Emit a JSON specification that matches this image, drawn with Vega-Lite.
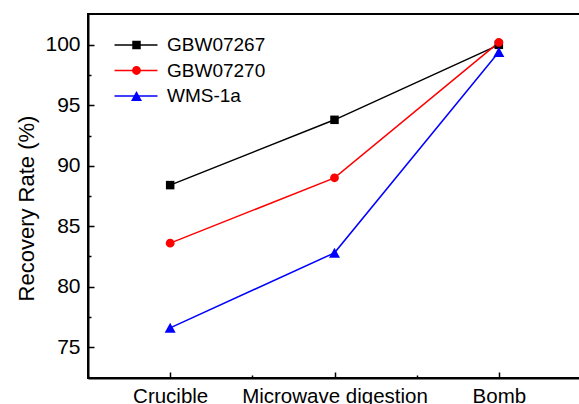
{
  "$schema": "https://vega.github.io/schema/vega-lite/v6.json",
  "autosize": "none",
  "width": 493,
  "height": 364,
  "padding": {"left": 88, "top": 14, "right": 0, "bottom": 26},
  "background": "white",
  "config": {
    "view": {"stroke": "black", "strokeWidth": 2},
    "font": "Liberation Sans",
    "axis": {"grid": false, "labelColor": "black", "titleColor": "black", "domainColor": "black", "tickColor": "black", "labelFont": "Liberation Sans", "titleFont": "Liberation Sans"},
    "legend": {"labelFont": "Liberation Sans", "labelFontSize": 19, "labelColor": "black", "padding": 0, "rowPadding": 5.5, "title": null}
  },
  "data": {
    "values": [
      {"method": "Crucible", "sample": "GBW07267", "rate": 88.4},
      {"method": "Microwave digestion", "sample": "GBW07267", "rate": 93.8},
      {"method": "Bomb", "sample": "GBW07267", "rate": 100.0},
      {"method": "Crucible", "sample": "GBW07270", "rate": 83.6},
      {"method": "Microwave digestion", "sample": "GBW07270", "rate": 89.0},
      {"method": "Bomb", "sample": "GBW07270", "rate": 100.2},
      {"method": "Crucible", "sample": "WMS-1a", "rate": 76.6},
      {"method": "Microwave digestion", "sample": "WMS-1a", "rate": 82.8},
      {"method": "Bomb", "sample": "WMS-1a", "rate": 99.4}
    ]
  },
  "resolve": {"scale": {"x": "independent", "y": "independent"}, "axis": {"x": "independent", "y": "independent"}},
  "layer": [
    {
      "encoding": {
        "x": {
          "field": "method", "type": "nominal", "sort": ["Crucible", "Microwave digestion", "Bomb"],
          "scale": {"type": "point", "padding": 0.5, "domain": ["Crucible", "Microwave digestion", "Bomb"]},
          "axis": {
            "orient": "bottom", "title": null, "labelAngle": 0, "labelFontSize": 20.5, "labelPadding": 14.5, "labelLimit": 400,
            "domainWidth": 2, "tickSize": -6, "tickWidth": 1.5
          }
        },
        "y": {
          "field": "rate", "type": "quantitative",
          "scale": {"domain": [72.45, 102.55], "nice": false, "zero": false},
          "axis": {
            "orient": "left",
            "values": [75, 80, 85, 90, 95, 100],
            "labelFontSize": 21, "labelPadding": 14, "tickSize": -6, "tickWidth": 1.5, "domainWidth": 2,
            "title": "Recovery Rate (%)", "titleFontSize": 22, "titleFontWeight": "normal",
            "titleAngle": 270, "titleX": -55, "titleY": 194, "titleBaseline": "alphabetic", "titleAlign": "center", "titleLimit": 400
          }
        }
      },
      "layer": [
        {
          "mark": {"type": "line", "strokeWidth": 1.5},
          "encoding": {
            "stroke": {
              "field": "sample", "type": "nominal",
              "scale": {"range": ["#000000", "#ff0000", "#0000ff"]},
              "legend": {
                "orient": "none", "legendX": 39, "legendY": 21.5, "symbolType": "M-4.4,0H4.2", "symbolSize": 100,
                "symbolStrokeWidth": 1.5, "labelOffset": 21
              }
            }
          }
        },
        {
          "mark": {"type": "point", "filled": true, "opacity": 1, "size": 100},
          "encoding": {
            "fill": {
              "field": "sample", "type": "nominal",
              "scale": {"domain": ["GBW07267", "GBW07270", "WMS-1a"], "range": ["#000000", "#ff0000", "#0000ff"]},
              "legend": {
                "orient": "none", "legendX": 39, "legendY": 21.5, "symbolSize": 100, "labelOpacity": 0, "labelOffset": 21
              }
            },
            "shape": {
              "field": "sample", "type": "nominal",
              "scale": {
                "domain": ["GBW07267", "GBW07270", "WMS-1a"],
                "range": ["M-0.85,-0.85H0.85V0.85H-0.85Z", "M-0.88,0A0.88,0.88,0,1,1,0.88,0A0.88,0.88,0,1,1,-0.88,0Z", "M0,-1L1.1,1H-1.1Z"]
              }
            }
          }
        }
      ]
    },
    {
      "mark": {"type": "point", "opacity": 0},
      "encoding": {
        "x": {
          "field": "method", "type": "nominal", "sort": ["Crucible", "Microwave digestion", "Bomb"],
          "scale": {"type": "band", "paddingInner": 0, "paddingOuter": 0, "domain": ["Crucible", "Microwave digestion", "Bomb"]},
          "axis": {
            "orient": "bottom", "title": null, "labels": false, "domain": false, "tickBand": "extent",
            "tickSize": -3, "tickWidth": 1.5
          }
        },
        "y": {
          "field": "rate", "type": "quantitative",
          "scale": {"domain": [72.45, 102.55], "nice": false, "zero": false},
          "axis": {
            "orient": "left", "title": null, "labels": false, "domain": false,
            "values": [77.5, 82.5, 87.5, 92.5, 97.5],
            "tickSize": -3, "tickWidth": 1.5
          }
        }
      }
    }
  ]
}
